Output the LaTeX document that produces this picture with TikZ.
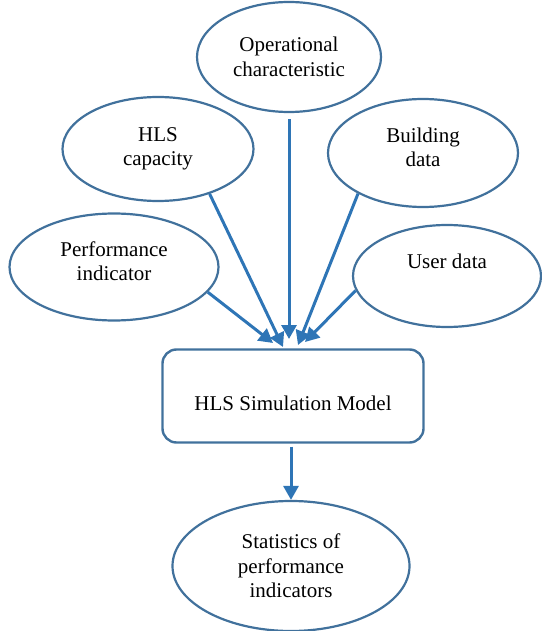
\documentclass[tikz,border=0pt]{standalone}
\usepackage{fontspec}
\setmainfont{Liberation Serif}
\usepackage{tikz}
\usetikzlibrary{shapes,arrows.meta}
\definecolor{ellblue}{RGB}{65,113,156}
\definecolor{arrblue}{RGB}{46,117,182}

\begin{document}
\begin{tikzpicture}[x=1pt,y=-1pt,
      every node/.style={font=\fontsize{21}{24.5}\selectfont,align=center},
      ellnode/.style={draw=ellblue,line width=2.2pt,ellipse,inner sep=0pt},
      boxnode/.style={draw=ellblue,line width=2.4pt,rounded corners=14pt,
        minimum width=261pt,minimum height=93pt},
      arr/.style={draw=arrblue,line width=3pt,-{Triangle[length=14pt,width=15pt]}}
    ]
    \useasboundingbox (0,0) rectangle (541,631);

    % the inputs
    \node[ellnode,minimum width=184pt,minimum height=110pt] (oper) at (289,57)
      {Operational\\characteristic};
    \node[ellnode,minimum width=191pt,minimum height=104pt] (cap) at (158,149)
      {HLS\\capacity};
    \node[ellnode,minimum width=190pt,minimum height=108pt,text depth=12pt] (bld) at (423,153)
      {Building\\data};
    \node[ellnode,minimum width=209pt,minimum height=107pt,text depth=12pt] (perf) at (114,267)
      {Performance\\indicator};
    \node[ellnode,minimum width=188pt,minimum height=102pt,text depth=30pt] (user) at (447,276)
      {User data};

    % the model and its output
    \node[boxnode,text height=29pt] (model) at (293,396) {HLS Simulation Model};
    \node[ellnode,minimum width=237pt,minimum height=130pt] (stats) at (291,566)
      {Statistics of\\performance\\indicators};

    % the arrow tips on top of the model
    \coordinate (tp) at (273,343);
    \coordinate (tc) at (283,347);
    \coordinate (to) at (289,339);
    \coordinate (tb) at (298,345);
    \coordinate (tu) at (305,342);

    % the arrows
    \draw[arr] (perf.-15) -- (tp);
    \draw[arr] (cap.-41) -- (tc);
    \draw[arr,shorten <=6pt] (oper.south) -- (to);
    \draw[arr] (bld.212) -- (tb);
    \draw[arr] (user.189) -- (tu);
    \draw[arr,shorten <=3pt] (model.south -| stats.north) -- (stats.north);
\end{tikzpicture}
\end{document}
